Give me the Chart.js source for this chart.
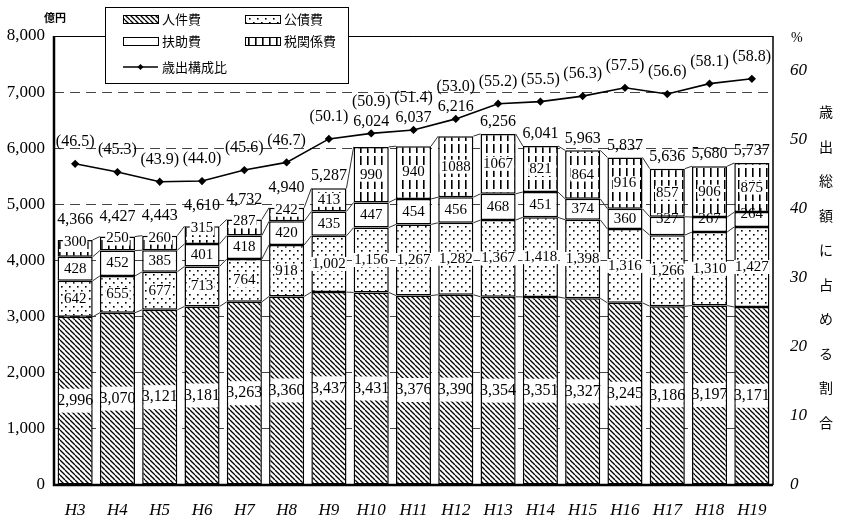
<!DOCTYPE html>
<html lang="ja">
<head>
  <meta charset="UTF-8">
  <title>歳出総額と構成比の推移</title>
  <script src="https://cdn.jsdelivr.net/npm/chart.js"></script>
  <style>
    html, body { margin: 0; padding: 0; background: #fff; }
    #wrap { width: 841px; height: 522px; }
  </style>
</head>
<body>
  <div id="wrap"><canvas id="chart" width="841" height="522"></canvas></div>

  <script>
    const years = ['H3', 'H4', 'H5', 'H6', 'H7', 'H8', 'H9', 'H10', 'H11', 'H12', 'H13', 'H14', 'H15', 'H16', 'H17', 'H18', 'H19'];
    const jinkenhi = [2996, 3070, 3121, 3181, 3263, 3360, 3437, 3431, 3376, 3390, 3354, 3351, 3327, 3245, 3186, 3197, 3171];
    const kousaihi = [642, 655, 677, 713, 764, 918, 1002, 1156, 1267, 1282, 1367, 1418, 1398, 1316, 1266, 1310, 1427];
    const fujohi = [428, 452, 385, 401, 418, 420, 435, 447, 454, 456, 468, 451, 374, 360, 327, 267, 264];
    const zeikankei = [300, 250, 260, 315, 287, 242, 413, 990, 940, 1088, 1067, 821, 864, 916, 857, 906, 875];
    const ratio = [46.5, 45.3, 43.9, 44.0, 45.6, 46.7, 50.1, 50.9, 51.4, 53.0, 55.2, 55.5, 56.3, 57.5, 56.6, 58.1, 58.8];
    const seriesNames = ['人件費', '公債費', '扶助費', '税関係費'];
    const lineName = '歳出構成比';
    const rightTitle = '歳出総額に占める割合';

    const numFont = "'Liberation Serif', 'DejaVu Serif', serif";
    const jpFont = "'Noto Sans CJK JP', sans-serif";
    const fmt = v => v.toLocaleString('en-US');

    // fill patterns like the printed original
    function makePattern(kind) {
      const c = document.createElement('canvas');
      const g = c.getContext('2d');
      if (kind === 'hatch') {
        c.width = 5; c.height = 5;
        g.fillStyle = '#fff'; g.fillRect(0, 0, 5, 5);
        g.strokeStyle = '#000'; g.lineWidth = 1.3;
        for (const k of [-5, 0, 5]) {
          g.beginPath(); g.moveTo(k, 0); g.lineTo(k + 5, 5); g.stroke();
        }
      } else if (kind === 'dots') {
        c.width = 8; c.height = 8;
        g.fillStyle = '#fff'; g.fillRect(0, 0, 8, 8);
        g.fillStyle = '#000';
        g.fillRect(1, 2, 1.6, 1.6);
        g.fillRect(5, 6, 1.6, 1.6);
      } else {
        c.width = 7; c.height = 12;
        g.fillStyle = '#fff'; g.fillRect(0, 0, 7, 12);
        g.fillStyle = '#000';
        g.fillRect(3, 0, 1.6, 9);
      }
      return g.createPattern(c, 'repeat');
    }
    const fills = [makePattern('hatch'), makePattern('dots'), '#fff', makePattern('vlines')];

    const barStyle = {
      borderColor: '#000',
      borderWidth: 1.5,
      borderSkipped: false,
      barPercentage: 0.83,
      categoryPercentage: 1,
      order: 1
    };

    // series lines between bars, labels, frame, legend and right title
    const decorations = {
      id: 'decorations',
      afterDatasetsDraw(chart) {
        const ctx = chart.ctx;
        const metas = [0, 1, 2, 3].map(i => chart.getDatasetMeta(i));
        const points = chart.getDatasetMeta(4).data;
        ctx.save();
        ctx.strokeStyle = '#333';
        ctx.lineWidth = 1;
        metas.forEach(meta => {
          for (let j = 0; j < meta.data.length - 1; j++) {
            const a = meta.data[j], b = meta.data[j + 1];
            ctx.beginPath();
            ctx.moveTo(a.x + a.width / 2, a.y);
            ctx.lineTo(b.x - b.width / 2, b.y);
            ctx.stroke();
          }
        });

        ctx.textAlign = 'center';
        ctx.textBaseline = 'middle';
        metas.forEach((meta, i) => {
          const vals = chart.data.datasets[i].data;
          meta.data.forEach((bar, j) => {
            const h = bar.base - bar.y;
            const cy = h < 20 ? bar.y + 2 : (bar.y + bar.base) / 2;
            const txt = i === 3 ? String(vals[j]) : fmt(vals[j]);
            ctx.font = (i === 0 ? '16px ' : '15px ') + numFont;
            const w = ctx.measureText(txt).width;
            ctx.fillStyle = '#fff';
            if (i === 0) ctx.fillRect(bar.x - bar.width / 2 + 1.5, cy - 12, bar.width - 3, 24);
            else if (i !== 2) ctx.fillRect(bar.x - w / 2 - 1, cy - 7, w + 2, 14);
            ctx.fillStyle = '#000';
            ctx.fillText(txt, bar.x, cy);
          });
        });

        // totals above bars, ratio labels above points
        ctx.font = '16px ' + numFont;
        metas[3].data.forEach((bar, j) => {
          const total = jinkenhi[j] + kousaihi[j] + fujohi[j] + zeikankei[j];
          const small = bar.base - bar.y < 20;
          const pt = points[j];
          let ty = bar.y - (small ? 20 : 12);
          if (pt.y > bar.y - 26) ty = pt.y - 12;
          ctx.fillText(fmt(total), bar.x, ty);
          const ry = Math.min(pt.y - 22, ty - 20);
          ctx.fillText('(' + ratio[j].toFixed(1) + ')', pt.x, ry);
        });
        ctx.restore();
      },
      afterDraw(chart) {
        const ctx = chart.ctx;
        const a = chart.chartArea;
        ctx.save();
        // frame
        ctx.strokeStyle = '#000';
        ctx.lineWidth = 1;
        ctx.beginPath(); ctx.moveTo(a.left, a.top + 0.5); ctx.lineTo(a.right, a.top + 0.5); ctx.stroke();
        ctx.lineWidth = 1.5;
        ctx.beginPath(); ctx.moveTo(a.right, a.top); ctx.lineTo(a.right, a.bottom); ctx.stroke();
        ctx.lineWidth = 2.5;
        ctx.beginPath(); ctx.moveTo(a.left, a.top); ctx.lineTo(a.left, a.bottom); ctx.lineTo(a.right, a.bottom); ctx.stroke();

        // units
        ctx.fillStyle = '#000';
        ctx.textBaseline = 'middle';
        ctx.textAlign = 'left';
        ctx.font = 'bold 11px ' + jpFont;
        ctx.fillText('億円', 44, 18);
        ctx.font = '14px ' + numFont;
        ctx.fillText('%', 791, 38);

        // vertical right title
        ctx.font = '14px ' + jpFont;
        ctx.textAlign = 'center';
        [...rightTitle].forEach((ch, k) => ctx.fillText(ch, 826, 112 + k * 34.5));

        // legend box
        ctx.fillStyle = '#fff';
        ctx.fillRect(105, 7, 243, 76);
        ctx.lineWidth = 1;
        ctx.strokeRect(105.5, 7.5, 243, 76);
        const slots = [[123, 19], [245, 19], [123, 41], [245, 41]];
        ctx.textAlign = 'left';
        ctx.font = '13px ' + jpFont;
        slots.forEach(([x, y], i) => {
          ctx.fillStyle = fills[i];
          ctx.fillRect(x, y - 4, 35, 8);
          ctx.strokeRect(x + 0.5, y - 3.5, 35, 8);
          ctx.fillStyle = '#000';
          ctx.fillText(seriesNames[i], x + 39, y);
        });
        ctx.lineWidth = 1.5;
        ctx.beginPath(); ctx.moveTo(123, 67); ctx.lineTo(158, 67); ctx.stroke();
        ctx.beginPath();
        ctx.moveTo(140.5, 64); ctx.lineTo(143.5, 67); ctx.lineTo(140.5, 70); ctx.lineTo(137.5, 67); ctx.closePath();
        ctx.fill();
        ctx.fillText(lineName, 162, 67);
        ctx.restore();
      }
    };

    new Chart(document.getElementById('chart'), {
      data: {
        labels: years,
        datasets: [
          { type: 'bar', label: seriesNames[0], data: jinkenhi, backgroundColor: fills[0], ...barStyle },
          { type: 'bar', label: seriesNames[1], data: kousaihi, backgroundColor: fills[1], ...barStyle },
          { type: 'bar', label: seriesNames[2], data: fujohi, backgroundColor: fills[2], ...barStyle },
          { type: 'bar', label: seriesNames[3], data: zeikankei, backgroundColor: fills[3], ...barStyle },
          {
            type: 'line',
            label: lineName,
            data: ratio,
            yAxisID: 'y2',
            borderColor: '#000',
            borderWidth: 1.6,
            pointStyle: 'rectRot',
            pointRadius: 3,
            pointBackgroundColor: '#000',
            pointBorderColor: '#000',
            tension: 0,
            order: 0
          }
        ]
      },
      options: {
        responsive: false,
        animation: false,
        layout: { padding: { top: 36, left: 0, right: 0, bottom: 0 } },
        plugins: {
          legend: { display: false },
          tooltip: { enabled: false }
        },
        scales: {
          x: {
            stacked: true,
            grid: { display: false, drawTicks: false },
            border: { display: false },
            ticks: {
              padding: 15,
              color: '#000',
              font: { family: numFont, size: 17, style: 'italic' }
            },
            afterFit: s => { s.height = 37; }
          },
          y: {
            stacked: true,
            min: 0,
            max: 8000,
            grid: { color: '#444', lineWidth: 1, drawTicks: false },
            border: { display: false, dash: [10, 6] },
            ticks: {
              stepSize: 1000,
              padding: 9,
              color: '#000',
              font: { family: numFont, size: 17 },
              callback: v => fmt(v)
            },
            afterFit: s => { s.width = 54; }
          },
          y2: {
            position: 'right',
            stacked: false,
            min: 0,
            max: 65,
            grid: { display: false, drawTicks: false },
            border: { display: false },
            ticks: {
              stepSize: 10,
              padding: 17,
              color: '#000',
              font: { family: numFont, size: 17, style: 'italic' }
            },
            afterBuildTicks: s => { s.ticks = s.ticks.filter(t => t.value % 10 === 0); },
            afterFit: s => { s.width = 68; }
          }
        }
      },
      plugins: [decorations]
    });
  </script>
</body>
</html>
